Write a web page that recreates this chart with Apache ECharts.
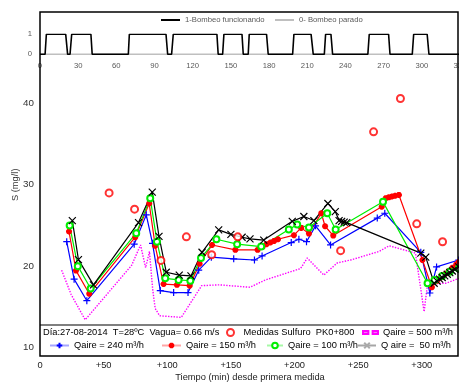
<!DOCTYPE html>
<html>
<head>
<meta charset="utf-8">
<script src="https://cdn.jsdelivr.net/npm/echarts@6/dist/echarts.min.js"></script>
<style>
  html, body { margin: 0; padding: 0; background: #fff; }
  #chart { width: 459px; height: 383px; }
</style>
</head>
<body>
<div id="chart"></div>
<script>
// tiempo (min) / S (mg/l)
const measT = [54.3, 74.3, 95, 115, 134.9, 155.4, 236.2, 262.1, 283.2, 296, 316.3];
const measS = [29.0, 27.0, 20.7, 23.6, 21.4, 23.6, 21.9, 36.5, 40.6, 25.2, 23.0];

const q500T = [17, 24.5, 35.5, 72, 79, 83, 86, 88.5, 90.5, 94, 111, 127, 141, 165, 177, 204.7, 210, 223, 233.6, 244, 266.4, 274.3, 295, 301.8, 304.5, 319, 329];
const q500S = [19.5, 16.5, 13.4, 20.1, 22.6, 19.8, 21.8, 17.2, 14.8, 13.9, 13.7, 17.6, 17.7, 17.4, 18.3, 19.7, 21.0, 18.9, 20.4, 20.75, 21.8, 22.5, 21.6, 14.4, 17.8, 17.9, 18.5];

const q240T = [21, 26.8, 36.8, 74, 83.5, 88.4, 94.5, 105, 116.3, 124.7, 134.6, 152.2, 168.5, 174.5, 197.4, 203.4, 209.4, 216.5, 228.3, 265, 270.9, 299.2, 306.3, 311.6, 329];
const q240S = [23.0, 18.4, 15.75, 22.7, 26.3, 22.8, 17.0, 16.75, 16.75, 19.5, 21.1, 20.9, 20.75, 21.25, 22.9, 23.3, 23.0, 24.95, 22.6, 25.9, 26.5, 21.7, 16.7, 19.9, 20.75];

const q150T = [22.8, 28.3, 38.7, 74.8, 85.8, 90.5, 97.1, 107.6, 117.6, 125.4, 135.2, 153.5, 171, 175, 178, 181, 184, 187, 199.5, 205.2, 211.3, 221, 224, 230.4, 268.5, 271.7, 274, 276.5, 279, 282, 300.5, 307.9, 312, 315, 318, 321, 324, 327, 329];
const q150S = [24.25, 19.45, 16.6, 23.55, 27.7, 22.5, 17.8, 17.7, 17.6, 20.3, 22.6, 22.0, 22.0, 22.4, 22.7, 22.9, 23.1, 23.3, 23.8, 24.7, 24.0, 26.5, 24.9, 23.75, 27.3, 28.35, 28.45, 28.55, 28.65, 28.75, 20.75, 17.4, 18.2, 18.6, 19.0, 19.4, 19.8, 20.2, 20.5];

const q100T = [23.3, 29.7, 39.8, 75.6, 86.6, 91.9, 98.4, 108.9, 118.1, 126.5, 138.6, 154.9, 173.8, 195.5, 202.1, 211.3, 225.7, 232.3, 269.5, 304.5, 310, 316, 322, 329];
const q100S = [25.0, 20.0, 17.25, 24.05, 28.35, 23.0, 18.5, 18.3, 18.2, 21.0, 23.3, 22.7, 22.4, 24.5, 25.1, 24.75, 26.5, 24.5, 27.9, 17.9, 18.3, 18.8, 19.3, 19.7];

const q50T = [25.4, 30.2, 42, 77.4, 88.2, 93.5, 99.2, 109.4, 118.6, 127.3, 140.4, 150, 158.8, 165, 175.8, 198.2, 207.3, 215.2, 226.2, 232, 235, 237, 239, 241, 299.2, 303.1, 309.7, 312, 314, 316, 318, 320, 322, 324, 326, 329];
const q50S = [25.6, 20.8, 17.7, 25.35, 29.1, 23.65, 19.25, 18.9, 18.8, 21.7, 24.45, 23.9, 23.55, 23.35, 23.2, 25.5, 26.1, 25.6, 27.7, 26.7, 25.6, 25.5, 25.4, 25.35, 21.6, 21.1, 17.9, 18.15, 18.4, 18.6, 18.8, 19.0, 19.2, 19.4, 19.6, 19.9];

// bombeo (franja superior)
const pumpT = [0, 4, 5, 20.2, 21.7, 23.6, 24.9, 40, 41, 69.4, 70.2, 99, 100.3, 103.4, 104.7, 139, 140, 143.5, 144.5, 158.7, 159.7, 163.6, 164.4, 178, 179.3, 198.5, 199.5, 213, 214.7, 223.4, 224.4, 228.6, 229.9, 257.6, 258.7, 273.9, 275, 292.5, 293.6, 304.2, 305.6, 330];
const pumpV = [0, 0, 1, 1, 0, 0, 1, 1, 0, 0, 1, 1, 0, 0, 1, 1, 0, 0, 1, 1, 0, 0, 1, 1, 0, 0, 1, 1, 0, 0, 1, 1, 0, 0, 1, 1, 0, 0, 1, 1, 0, 0];
const offT = [0, 330];
const offV = [0, 0];

const mainXTicks = { min: 0, max: 330, step: 50 };
const stripXTicks = { min: 0, max: 330, step: 30 };
const mainYTicks = { min: 10, max: 50, step: 10 };

const zip = (t, v) => t.map((x, i) => [x, v[i]]);

const FONT = "Liberation Sans, Arial, sans-serif";
const PLUS = "path://M5,0L5,10M0,5L10,5";
const CROSS = "path://M0,0L10,10M10,0L0,10";
const STAR = "path://M5,0L5,10M0,5L10,5M1.5,1.5L8.5,8.5M8.5,1.5L1.5,8.5";
// iconos de leyenda estilo Excel (dos marcas)
const DASHES = "path://M0,4h5v3h-5zM9,4h5v3h-5z";

const lineSeries = (name, data, color, symbol, size, extra) => Object.assign({
  name,
  type: "line",
  xAxisIndex: 0,
  yAxisIndex: 0,
  data,
  symbol,
  symbolSize: size,
  lineStyle: { color, width: 1.2 },
  itemStyle: { color, borderColor: color, borderWidth: 1.2 },
  emphasis: { disabled: true },
  animation: false,
}, extra || {});

const legendAt = (name, left, top, w, h, size, color, extra) => Object.assign({
  data: [name],
  left, top,
  padding: 0,
  itemWidth: w,
  itemHeight: h,
  selectedMode: false,
  textStyle: { fontFamily: FONT, fontSize: size, color },
}, extra || {});

const chart = echarts.init(document.getElementById("chart"), null, { renderer: "canvas" });

chart.setOption({
  backgroundColor: "#fff",
  animation: false,
  title: {
    text: "Día:27-08-2014  T=28ºC  Vagua= 0.66 m/s",
    left: 43, top: 328, padding: 0,
    textStyle: { fontFamily: FONT, fontSize: 9.3, fontWeight: "normal", color: "#000" },
  },
  legend: [
    legendAt("1-Bombeo funcionando", 161, 16, 19, 2, 7.7, "#595959", { icon: "rect" }),
    legendAt("0- Bombeo parado", 275, 16, 19, 2, 7.7, "#595959", { icon: "rect" }),
    legendAt("Medidas Sulfuro  PK0+800", 226, 328, 16, 7, 9.3, "#000"),
    legendAt("Qaire = 500 m³/h", 362, 328, 15, 4, 9.3, "#000", {
      icon: DASHES, itemStyle: { color: "#ee88ee" },
    }),
    legendAt("Qaire = 240 m³/h", 49, 341, 19, 7, 9.3, "#000", { lineStyle: { opacity: 0.35 } }),
    legendAt("Qaire = 150 m³/h", 161, 341, 19, 7, 9.3, "#000", { lineStyle: { opacity: 0.35 } }),
    legendAt("Qaire = 100 m³/h", 266, 341, 16, 7, 9.3, "#000", { lineStyle: { opacity: 0.35 } }),
    legendAt("Q aire =  50 m³/h", 357, 341, 18, 7, 9.3, "#000", {
      lineStyle: { opacity: 0.35 }, itemStyle: { color: "#aaa", borderColor: "#aaa" },
    }),
  ],
  grid: [
    { left: 40, right: -1, top: 22, bottom: 35.5, outerBoundsMode: "none" },
    { left: 40, right: -1, top: 34.3, bottom: 328.7, outerBoundsMode: "none" },
  ],
  xAxis: [
    {
      type: "value", gridIndex: 0,
      min: mainXTicks.min, max: mainXTicks.max, interval: mainXTicks.step,
      axisLine: { show: false }, axisTick: { show: false }, splitLine: { show: false },
      axisLabel: {
        margin: 13, fontFamily: FONT, fontSize: 9.3, color: "#222",
        showMaxLabel: false,
        formatter: (v) => (v === 0 ? "0" : "+" + v),
      },
      name: "Tiempo (min) desde primera medida",
      nameLocation: "middle", nameGap: 25, nameMoveOverlap: false,
      nameTextStyle: { fontFamily: FONT, fontSize: 9.3, color: "#222" },
    },
    {
      type: "value", gridIndex: 1,
      min: stripXTicks.min, max: stripXTicks.max, interval: stripXTicks.step,
      axisLine: { show: false }, axisTick: { show: false }, splitLine: { show: false },
      axisLabel: { margin: 8, fontFamily: FONT, fontSize: 7.7, color: "#595959" },
    },
  ],
  yAxis: [
    {
      type: "value", gridIndex: 0,
      min: mainYTicks.min, max: mainYTicks.max, interval: mainYTicks.step,
      axisLine: { show: false }, axisTick: { show: false }, splitLine: { show: false },
      axisLabel: { margin: 6, fontFamily: FONT, fontSize: 9.8, color: "#333", showMaxLabel: false },
      name: "S (mg/l)",
      nameLocation: "middle", nameGap: 20, nameMoveOverlap: false,
      nameTextStyle: { fontFamily: FONT, fontSize: 9.3, color: "#333" },
    },
    {
      type: "value", gridIndex: 1, min: 0, max: 1, interval: 1,
      axisLine: { show: false }, axisTick: { show: false }, splitLine: { show: false },
      axisLabel: { margin: 8, fontFamily: FONT, fontSize: 7.7, color: "#595959" },
    },
  ],
  graphic: [
    {
      type: "rect", z: 50,
      shape: { x: 40, y: 12, width: 418, height: 344 },
      style: { fill: null, stroke: "#000", lineWidth: 1.5 },
    },
    {
      type: "line", z: 50,
      shape: { x1: 40, y1: 325, x2: 458, y2: 325 },
      style: { stroke: "#000", lineWidth: 1.2 },
    },
  ],
  series: [
    {
      name: "0- Bombeo parado", type: "line", xAxisIndex: 1, yAxisIndex: 1,
      data: zip(offT, offV), symbol: "none",
      lineStyle: { color: "#bfbfbf", width: 1.5 }, itemStyle: { color: "#bfbfbf" },
      animation: false,
    },
    {
      name: "1-Bombeo funcionando", type: "line", xAxisIndex: 1, yAxisIndex: 1,
      data: zip(pumpT, pumpV), symbol: "none",
      lineStyle: { color: "#000", width: 1.6 }, itemStyle: { color: "#000" },
      animation: false,
    },
    lineSeries("Qaire = 500 m³/h", zip(q500T, q500S), "#ff00ff", "none", 0, {
      lineStyle: { color: "#ff00ff", width: 1.4, type: "dotted" },
    }),
    lineSeries("Qaire = 240 m³/h", zip(q240T, q240S), "#0000ff", PLUS, 7),
    lineSeries("Qaire = 150 m³/h", zip(q150T, q150S), "#ff0000", STAR, 6, {
      itemStyle: { color: "#ff0000", borderColor: "#ff0000", borderWidth: 2 },
    }),
    lineSeries("Qaire = 100 m³/h", zip(q100T, q100S), "#00ee00", "emptyCircle", 6),
    lineSeries("Q aire =  50 m³/h", zip(q50T, q50S), "#000000", CROSS, 7),
    {
      name: "Medidas Sulfuro  PK0+800", type: "scatter", xAxisIndex: 0, yAxisIndex: 0,
      data: zip(measT, measS), symbol: "emptyCircle", symbolSize: 7,
      itemStyle: { color: "#ff0000", borderColor: "#ff0000", borderWidth: 2 },
      z: 5, animation: false,
    },
  ],
});
</script>
</body>
</html>
